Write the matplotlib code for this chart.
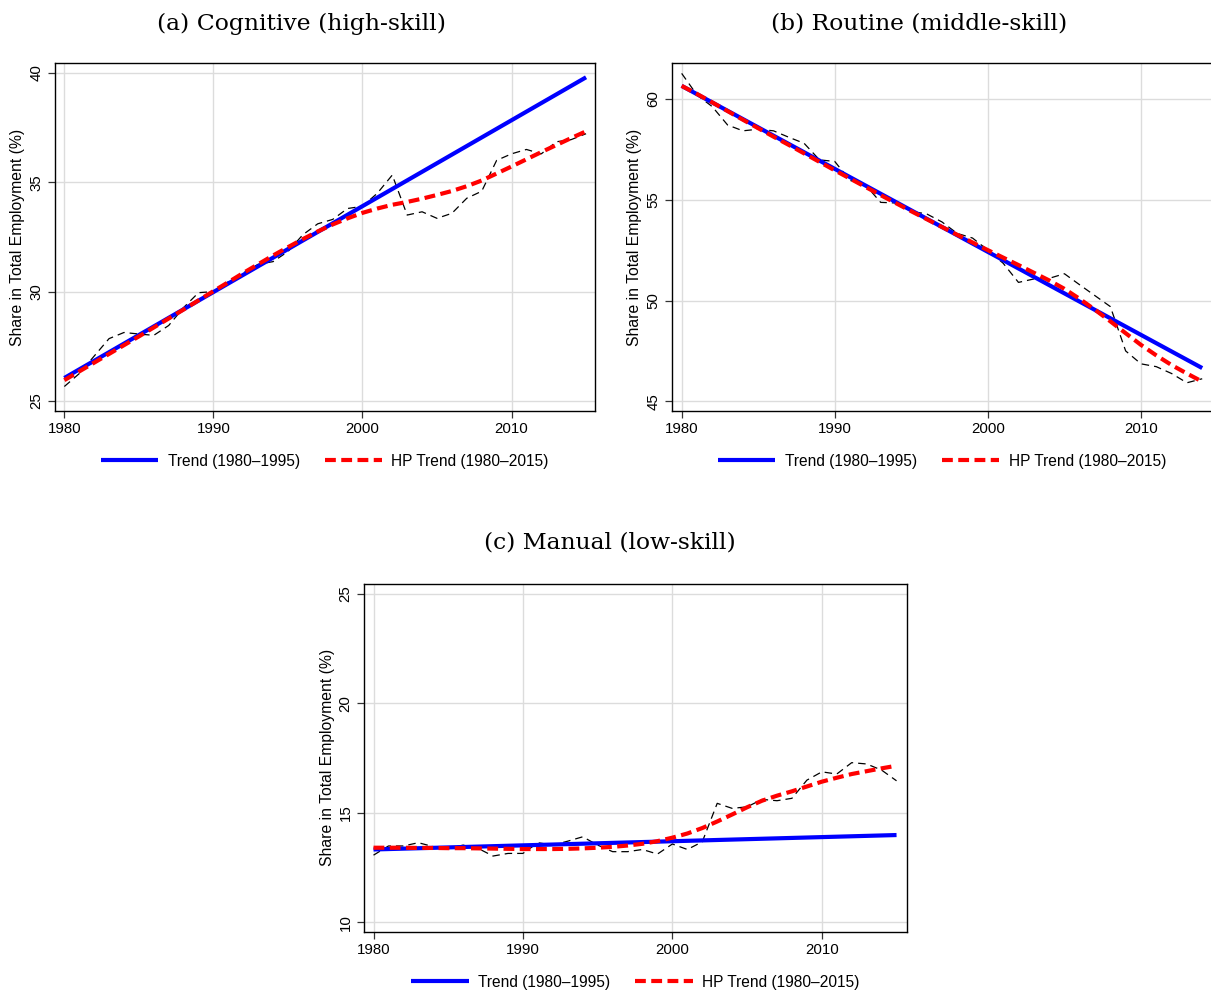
import matplotlib
matplotlib.use("Agg")
import matplotlib.pyplot as plt
import numpy as np

# ---------------- data ----------------
years_a = list(range(1980, 2016))
cog_data = [25.66, 26.25, 27.05, 27.85, 28.13, 28.06, 28.0, 28.45, 29.27, 29.95,
            30.0, 30.45, 30.85, 31.25, 31.37, 31.83, 32.6, 33.1, 33.3, 33.8,
            33.9, 34.5, 35.33, 33.5, 33.65, 33.35, 33.58, 34.27, 34.59, 36.0,
            36.3, 36.5, 36.3, 36.85, 36.95, 37.22]
cog_hp = [25.95, 26.35, 26.75, 27.15, 27.55, 27.95, 28.36, 28.77, 29.18, 29.6,
          30.02, 30.43, 30.85, 31.25, 31.65, 32.03, 32.4, 32.75, 33.07, 33.35,
          33.6, 33.8, 33.97, 34.1, 34.25, 34.42, 34.6, 34.82, 35.08, 35.4,
          35.72, 36.05, 36.38, 36.7, 37.02, 37.33]
cog_trend_years = [1980, 2015]
cog_trend = [26.05, 39.8]

years_b = list(range(1980, 2015))
rou_data = [61.27, 60.2, 59.62, 58.71, 58.42, 58.5, 58.42, 58.1, 57.8, 56.98,
            56.9, 55.96, 55.74, 54.87, 54.84, 54.42, 54.3, 53.9, 53.33, 53.1,
            52.5, 51.85, 50.9, 51.07, 51.1, 51.33, 50.78, 50.24, 49.7, 47.5,
            46.86, 46.72, 46.38, 45.92, 46.12]
rou_hp = [60.65, 60.25, 59.83, 59.4, 58.97, 58.55, 58.13, 57.72, 57.3, 56.88,
          56.46, 56.05, 55.64, 55.23, 54.83, 54.43, 54.04, 53.65, 53.26, 52.88,
          52.5, 52.13, 51.76, 51.38, 51.0, 50.58, 50.08, 49.54, 48.97, 48.38,
          47.8, 47.28, 46.8, 46.38, 45.98]
rou_trend_years = [1980, 2014]
rou_trend = [60.65, 46.65]

years_c = list(range(1980, 2016))
man_data = [13.06, 13.48, 13.48, 13.63, 13.45, 13.37, 13.52, 13.37, 13.02, 13.14,
            13.14, 13.63, 13.52, 13.7, 13.9, 13.52, 13.22, 13.22, 13.32, 13.11,
            13.57, 13.32, 13.67, 15.43, 15.2, 15.27, 15.61, 15.55, 15.66, 16.49,
            16.87, 16.77, 17.29, 17.23, 16.95, 16.46]
man_hp = [13.4, 13.4, 13.4, 13.39, 13.39, 13.38, 13.38, 13.37, 13.36, 13.35,
          13.34, 13.34, 13.34, 13.35, 13.37, 13.4, 13.44, 13.5, 13.58, 13.7,
          13.86, 14.05, 14.3, 14.6, 14.92, 15.25, 15.55, 15.78, 15.98, 16.2,
          16.42, 16.6, 16.77, 16.9, 17.03, 17.15]
man_trend_years = [1980, 2015]
man_trend = [13.32, 13.98]

titles = ["(a) Cognitive (high-skill)", "(b) Routine (middle-skill)", "(c) Manual (low-skill)"]
ylabel = "Share in Total Employment (%)"
legend_labels = ["Trend (1980\u20131995)", "HP Trend (1980\u20132015)"]
xticks = [1980, 1990, 2000, 2010]
yticks_a = [25, 30, 35, 40]
yticks_b = [45, 50, 55, 60]
yticks_c = [10, 15, 20, 25]

# ---------------- figure ----------------
W, H = 1211, 994
fig = plt.figure(figsize=(W / 100, H / 100), dpi=100)
sans = ["Liberation Sans", "DejaVu Sans"]
serif = ["DejaVu Serif", "Liberation Serif"]


def px_axes(l, t, r, b):
    return fig.add_axes([l / W, 1 - b / H, (r - l) / W, (b - t) / H])


def panel(ax, yrs, data, hp, tyrs, trend, xlim, ylim, yticks):
    ax.plot(yrs, data, color="black", lw=0.9, ls=(0, (6, 4)), zorder=3)
    l1, = ax.plot(tyrs, trend, color="#0000ff", lw=3.0, solid_capstyle="butt", zorder=4)
    l2, = ax.plot(yrs, hp, color="#ff0000", lw=3.0, ls=(0, (2.6, 1.3)), zorder=5)
    ax.set_xlim(*xlim)
    ax.set_ylim(*ylim)
    ax.set_xticks(xticks)
    ax.set_yticks(yticks)
    ax.grid(True, color="#dcdcdc", lw=1.0)
    ax.set_axisbelow(True)
    ax.tick_params(direction="out", length=5, width=0.9, color="#333333",
                   labelsize=10.8, pad=3)
    for lab in ax.get_xticklabels() + ax.get_yticklabels():
        lab.set_family(sans)
    for lab in ax.get_yticklabels():
        lab.set_rotation(90)
        lab.set_va("center")
    for s in ax.spines.values():
        s.set_linewidth(1.0)
        s.set_color("black")
    ax.set_ylabel(ylabel, family=sans, fontsize=11.3, labelpad=3)
    ax.legend([l1, l2], legend_labels, loc="upper center",
              bbox_to_anchor=(0.5, -0.083), ncol=2, frameon=False,
              prop={"family": sans, "size": 11.2}, handlelength=3.7,
              handletextpad=0.6, columnspacing=1.6)
    return ax


axa = px_axes(54.5, 63.3, 595, 411)
panel(axa, years_a, cog_data, cog_hp, cog_trend_years, cog_trend,
      (1979.34, 2015.6), (24.54, 40.44), yticks_a)

axb = px_axes(671.7, 63.3, 1212, 411)
panel(axb, years_b, rou_data, rou_hp, rou_trend_years, rou_trend,
      (1979.35, 2014.64), (44.52, 61.77), yticks_b)

axc = px_axes(363.8, 584, 907, 931.7)
panel(axc, years_c, man_data, man_hp, man_trend_years, man_trend,
      (1979.35, 2015.7), (9.56, 25.46), yticks_c)

# titles, fitted to the reference widths
title_specs = [(titles[0], 301.5, 23.5, 289), (titles[1], 919, 23.5, 296),
               (titles[2], 609.5, 542.5, 251)]
renderer = fig.canvas.get_renderer()
for txt, cx, cy, wpx in title_specs:
    t = fig.text(cx / W, 1 - cy / H, txt, ha="center", va="center",
                 family=serif, fontsize=17)
    w = t.get_window_extent(renderer).width
    t.set_fontsize(17 * wpx / w)

fig.savefig("out.png", dpi=100, facecolor="white")
